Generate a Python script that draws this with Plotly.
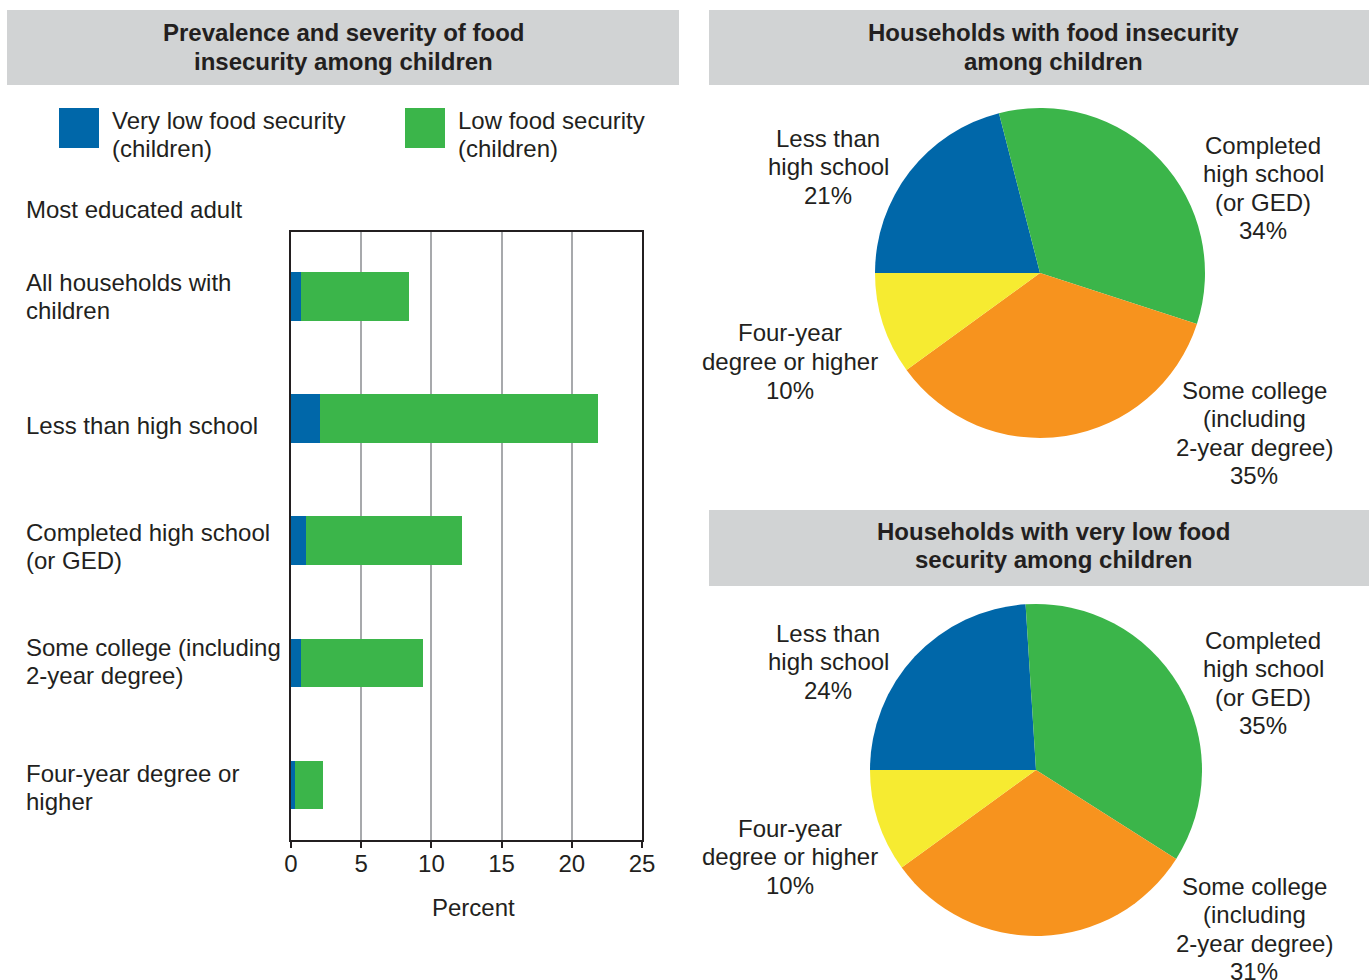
import plotly.graph_objects as go

W, H = 1369, 980
FONT = "Liberation Sans"
TXT = "#231f20"
BLUE = "#0067a9"
GREEN = "#3bb54a"
ORANGE = "#f7931e"
YELLOW = "#f6eb31"
GRAY = "#d1d3d4"

# ---------------- data ----------------
bar_labels = [
    "All households with\nchildren",
    "Less than high school",
    "Completed high school\n(or GED)",
    "Some college (including\n2-year degree)",
    "Four-year degree or\nhigher",
]
very_low_food_security = [0.7, 2.1, 1.05, 0.7, 0.3]
low_food_security = [7.7, 19.8, 11.1, 8.7, 2.0]
series_names = ["Very low food security\n(children)", "Low food security\n(children)"]
x_ticks = [0, 5, 10, 15, 20, 25]
x_title = "Percent"
y_title = "Most educated adult"

pie_categories = [
    "Less than\nhigh school",
    "Completed\nhigh school\n(or GED)",
    "Some college\n(including\n2-year degree)",
    "Four-year\ndegree or higher",
]
pie_food_insecure = [21, 34, 35, 10]
pie_very_low = [24, 35, 31, 10]
pie_colors = [BLUE, GREEN, ORANGE, YELLOW]

title_left = "Prevalence and severity of food\ninsecurity among children"
title_pie_top = "Households with food insecurity\namong children"
title_pie_bottom = "Households with very low food\nsecurity among children"

# ---------------- helpers ----------------
def px(x):
    return x / W


def py(y):
    return 1 - y / H


annotations = []
LS = 28.5


def text_block(text, x, y_first, xanchor="center", bold=False, size=24):
    if xanchor == "left":
        x = x - 3  # compensate annotation padding
    for i, line in enumerate(text.split("\n")):
        t = f"<b>{line}</b>" if bold else line
        annotations.append(dict(
            text=t, x=px(x), y=py(y_first + i * LS), xref="paper", yref="paper",
            xanchor=xanchor, yanchor="middle", showarrow=False,
            font=dict(family=FONT, size=size, color=TXT)))


bar_keys = [l.replace("\n", " ") for l in bar_labels]

fig = go.Figure()
fig.add_trace(go.Bar(y=bar_keys, x=very_low_food_security, orientation="h",
                     name=series_names[0].replace("\n", " "),
                     marker=dict(color=BLUE, line=dict(width=0)), width=0.4,
                     showlegend=False))
fig.add_trace(go.Bar(y=bar_keys, x=low_food_security, orientation="h",
                     name=series_names[1].replace("\n", " "),
                     marker=dict(color=GREEN, line=dict(width=0)), width=0.4,
                     showlegend=False))

pie_names = [c.replace("\n", " ") for c in pie_categories]
fig.add_trace(go.Pie(values=pie_food_insecure, labels=pie_names, sort=False,
                     direction="clockwise", rotation=-90, textinfo="none",
                     marker=dict(colors=pie_colors, line=dict(width=0)),
                     domain=dict(x=[px(875), px(1205)], y=[py(438), py(108)]),
                     showlegend=False))
fig.add_trace(go.Pie(values=pie_very_low, labels=pie_names, sort=False,
                     direction="clockwise", rotation=-90, textinfo="none",
                     marker=dict(colors=pie_colors, line=dict(width=0)),
                     domain=dict(x=[px(870), px(1202)], y=[py(936), py(604)]),
                     showlegend=False))

# headers
shapes = []
for (x0, y0, x1, y1) in [(7, 10, 679, 85), (709, 10, 1369, 85), (709, 510, 1369, 586)]:
    shapes.append(dict(type="rect", xref="paper", yref="paper", x0=px(x0), x1=px(x1),
                       y0=py(y1), y1=py(y0), fillcolor=GRAY, line=dict(width=0),
                       layer="below"))
text_block(title_left, 343, 33, bold=True)
text_block(title_pie_top, 1053, 33, bold=True)
text_block(title_pie_bottom, 1053, 531, bold=True)

# legend
for (x0, col), (tx, name) in zip([(59, BLUE), (405, GREEN)], [(113, series_names[0]), (459, series_names[1])]):
    shapes.append(dict(type="rect", xref="paper", yref="paper", x0=px(x0), x1=px(x0 + 40),
                       y0=py(148), y1=py(108), fillcolor=col, line=dict(width=0)))
    text_block(name, tx, 120, xanchor="left")

text_block(y_title, 27, 209, xanchor="left")
bar_label_y = [282, 425, 532, 647, 773]
for lab, yy in zip(bar_labels, bar_label_y):
    text_block(lab, 27, yy, xanchor="left")
text_block(x_title, 473, 907)

# pie labels
pie_label_pos = [(828, 138), (1263, 145), (1254, 390), (790, 333)]
for cat, val, (x, y) in zip(pie_categories, pie_food_insecure, pie_label_pos):
    text_block(f"{cat}\n{val}%", x, y)
pie_label_pos2 = [(828, 633), (1263, 640), (1254, 886), (790, 828)]
for cat, val, (x, y) in zip(pie_categories, pie_very_low, pie_label_pos2):
    text_block(f"{cat}\n{val}%", x, y)

fig.update_layout(
    width=W, height=H, autosize=False,
    margin=dict(l=0, r=0, t=0, b=0, pad=0, autoexpand=False),
    paper_bgcolor="white", plot_bgcolor="white", barmode="stack", bargap=0,
    font=dict(family=FONT, size=24, color=TXT),
    shapes=shapes, annotations=annotations,
    xaxis=dict(domain=[px(291), px(642)], range=[0, 25], tickvals=x_ticks,
               showgrid=True, gridcolor="#a7a9ac", gridwidth=2,
               showline=True, linecolor=TXT, linewidth=1.5, mirror=True,
               ticks="outside", ticklen=6, tickcolor=TXT, tickwidth=1.5,
               ticklabelstandoff=-5,
               tickfont=dict(family=FONT, size=24, color=TXT), zeroline=False,
               automargin=False, fixedrange=True),
    yaxis=dict(domain=[py(840), py(232)], type="category",
               categoryorder="array", categoryarray=bar_keys,
               range=[4.45, -0.53], showticklabels=False, showgrid=False,
               showline=True, linecolor=TXT, linewidth=1.5, mirror=True,
               ticks="", zeroline=False, automargin=False, fixedrange=True),
    hovermode=False,
)

fig.write_html(
    "out.html",
    post_script=("document.documentElement.style.margin='0';"
                 "document.body.style.margin='0';"
                 "document.body.style.overflow='hidden';"
                 "document.documentElement.style.overflow='hidden';"),
    config={"displayModeBar": False, "responsive": False},
)
